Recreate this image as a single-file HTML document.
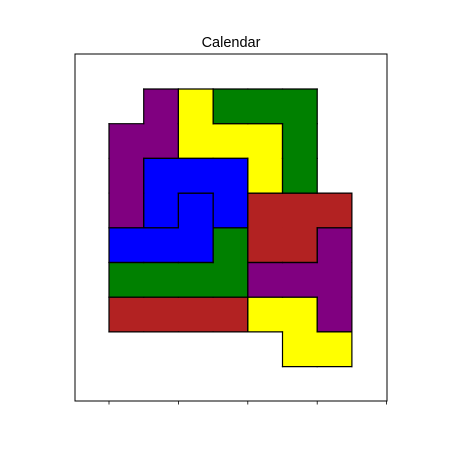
<!DOCTYPE html>
<html><head><meta charset="utf-8"><style>
html,body{margin:0;padding:0;background:#fff;}
svg{display:block;font-family:"Liberation Sans","DejaVu Sans",sans-serif;}
</style></head><body>
<svg id="chart" width="450" height="450">
<text x="231" y="47" text-anchor="middle" font-size="14.5">Calendar</text>
<rect x="75" y="54" width="312" height="347" fill="#fff" stroke="#000" stroke-width="1"/>
<g id="cells"></g><g id="edges"></g><g id="ticks"></g>
</svg>
<script>
const pieceNames = ["purple-top","yellow-top","green-top","blue-upper","blue-lower","green-middle","red-bottom","red-right","purple-right","yellow-bottom"];
const pieceColors = ["#800080","#ffff00","#008000","#0000ff","#0000ff","#008000","#b22222","#b22222","#800080","#ffff00"];
const pieceCells = [
 [[1,0],[1,1],[0,1],[0,2],[0,3]],
 [[2,0],[2,1],[3,1],[4,1],[4,2]],
 [[3,0],[4,0],[5,0],[5,1],[5,2]],
 [[1,2],[2,2],[3,2],[1,3],[3,3]],
 [[2,3],[0,4],[1,4],[2,4]],
 [[3,4],[3,5],[0,5],[1,5],[2,5]],
 [[0,6],[1,6],[2,6],[3,6]],
 [[4,3],[5,3],[6,3],[4,4],[5,4]],
 [[6,4],[6,5],[6,6],[4,5],[5,5]],
 [[4,6],[5,6],[5,7],[6,7]]
];
const xTicks = [0,2,4,6,8];
const U = 34.7, X0 = 109, Y0 = 89;
const sx = c => X0 + c*U, sy = r => Y0 + r*U;
const NS = "http://www.w3.org/2000/svg";
const owner = {};
pieceCells.forEach((cells,i)=>cells.forEach(([c,r])=>owner[c+","+r]=i));
const gC = document.getElementById("cells"), gE = document.getElementById("edges"), gT = document.getElementById("ticks");
pieceCells.forEach((cells,i)=>{
  const g = document.createElementNS(NS,"g");
  
  
  cells.forEach(([c,r])=>{
    const rc = document.createElementNS(NS,"rect");
    rc.setAttribute("x", sx(c)); rc.setAttribute("y", sy(r));
    rc.setAttribute("width", U+0.4); rc.setAttribute("height", U+0.4);
    rc.setAttribute("fill", pieceColors[i]);
    
    
    g.appendChild(rc);
  });
  gC.appendChild(g);
});
function edge(x1,y1,x2,y2){
  const l = document.createElementNS(NS,"line");
  l.setAttribute("x1",x1);l.setAttribute("y1",y1);l.setAttribute("x2",x2);l.setAttribute("y2",y2);
  l.setAttribute("stroke","#000");l.setAttribute("stroke-width","1.2");l.setAttribute("stroke-linecap","square");
  
  
  gE.appendChild(l);
}
pieceCells.forEach((cells,i)=>cells.forEach(([c,r])=>{
  const o = (cc,rr)=>owner[cc+","+rr];
  if(o(c,r-1)!==i) edge(sx(c),sy(r),sx(c+1),sy(r));
  if(o(c,r+1)!==i) edge(sx(c),sy(r+1),sx(c+1),sy(r+1));
  if(o(c-1,r)!==i) edge(sx(c),sy(r),sx(c),sy(r+1));
  if(o(c+1,r)!==i) edge(sx(c+1),sy(r),sx(c+1),sy(r+1));
}));
xTicks.forEach(t=>{
  const l = document.createElementNS(NS,"line");
  l.setAttribute("x1",sx(t));l.setAttribute("x2",sx(t));l.setAttribute("y1",401);l.setAttribute("y2",404.5);
  l.setAttribute("stroke","#000");l.setAttribute("stroke-width","0.8");
  
  
  gT.appendChild(l);
});
</script>
</body></html>
